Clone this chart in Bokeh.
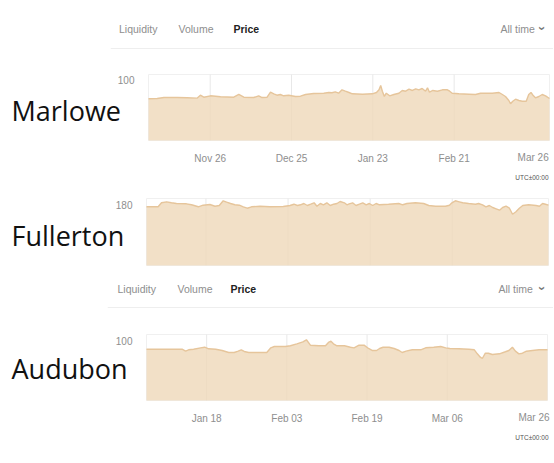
from math import pi
from bokeh.plotting import figure
from bokeh.layouts import column
from bokeh.models import Range1d, FixedTicker, Label, Span, LinearAxis
from bokeh.embed import file_html
from bokeh.resources import INLINE

# ---------------- data ----------------
names = ["Marlowe", "Fullerton", "Audubon"]
tabs = ["Liquidity", "Volume", "Price"]
range_label = "All time"
tz_label = "UTC±00:00"

marlowe_days = [0, 3.1, 5.5, 10.2, 13.8, 17.3, 18.5, 19.7, 22.1, 25.7,
                30.4, 32.2, 34.0, 37.5, 39.3, 40.5, 42.3, 43.5, 44.7, 45.8,
                47.0, 48.2, 50.0, 52.4, 54.2, 56.0, 58.9, 62.5, 64.3, 65.4,
                66.6, 67.8, 69.0, 70.2, 71.5, 72.7, 76.3, 79.8, 81.3, 82.2,
                82.8, 83.4, 84.1, 84.8, 86.0, 87.5, 89.3, 90.5, 91.7, 92.9,
                94.1, 95.3, 96.4, 97.6, 98.8, 99.5, 100.2, 101.4, 103.0, 104.8,
                106.6, 107.4, 108.3, 110.7, 114.3, 116.6, 118.4, 122.6, 125.0, 126.2,
                127.3, 128.5, 129.1, 129.9, 130.9, 132.1, 133.3, 134.7, 135.6, 136.4,
                137.1, 138.0, 139.2, 140.4, 141.6, 143.0]
marlowe_price = [68.9, 69.4, 71.0, 71.0, 70.5, 69.9, 74.8, 71.5, 73.8, 72.2,
                 71.5, 76.0, 71.5, 71.0, 73.8, 71.0, 71.5, 79.8, 77.1, 74.8,
                 76.0, 73.8, 74.8, 72.7, 73.2, 76.0, 77.6, 78.1, 79.3, 78.8,
                 80.4, 78.1, 83.7, 81.4, 79.3, 77.1, 76.5, 77.1, 79.3, 83.7,
                 90.8, 81.4, 72.7, 78.1, 73.8, 76.0, 78.1, 82.6, 81.4, 84.7,
                 82.6, 85.4, 83.7, 85.9, 81.4, 87.0, 79.8, 82.6, 81.4, 83.7,
                 83.7, 81.4, 78.1, 77.1, 76.5, 76.0, 78.1, 78.1, 79.3, 76.0,
                 72.7, 66.1, 60.6, 64.9, 68.2, 66.1, 64.9, 64.9, 76.0, 79.3,
                 74.8, 70.5, 72.7, 76.0, 73.8, 69.4]
marlowe_tick_days = [22, 51, 80, 109, 142]
marlowe_tick_labels = ["Nov 26", "Dec 25", "Jan 23", "Feb 21", "Mar 26"]
marlowe_ytick = 100
marlowe_ymax = 109

fullerton_days = [0, 4.1, 5.3, 7.1, 8.8, 10.6, 14.1, 15.9, 18.3, 20.0,
                  22.4, 24.2, 25.7, 27.1, 28.3, 29.7, 31.2, 32.8, 34.2, 35.6,
                  37.1, 40.1, 43.6, 48.3, 50.7, 52.1, 53.3, 54.4, 55.6, 56.8,
                  58.0, 59.2, 60.2, 61.4, 62.5, 63.7, 64.9, 66.1, 67.3, 68.4,
                  69.9, 70.8, 71.6, 72.8, 74.0, 75.2, 76.4, 77.6, 78.7, 79.9,
                  81.1, 82.3, 85.5, 89.1, 90.5, 92.0, 95.0, 97.9, 99.7, 102.1,
                  105.6, 107.0, 107.9, 109.1, 110.5, 111.7, 113.8, 116.2, 117.3, 118.7,
                  119.9, 121.1, 122.3, 123.5, 124.7, 125.8, 127.0, 128.2, 129.3, 130.5,
                  131.7, 132.9, 135.0, 137.6, 138.8, 139.9, 140.9, 142.0]
fullerton_price = [173.5, 173.5, 185.3, 188.2, 185.3, 183.2, 182.3, 179.4, 173.5, 178.2,
                   180.3, 175.2, 177.3, 191.2, 187.1, 183.2, 179.4, 178.2, 173.5, 169.3,
                   173.5, 175.2, 173.5, 174.3, 177.3, 181.1, 177.3, 179.4, 183.2, 177.3,
                   181.1, 185.3, 175.2, 183.2, 179.4, 185.3, 177.3, 181.1, 183.2, 189.1,
                   185.3, 179.4, 182.3, 185.3, 177.3, 181.1, 185.3, 179.4, 183.2, 177.3,
                   183.2, 179.4, 181.1, 183.2, 179.4, 183.2, 185.3, 183.2, 177.3, 175.2,
                   175.2, 178.2, 185.3, 191.2, 188.2, 185.3, 183.2, 181.1, 183.2, 179.4,
                   173.5, 177.3, 171.4, 167.5, 163.4, 171.4, 175.2, 169.3, 151.6, 158.7,
                   169.3, 177.3, 179.4, 177.3, 175.2, 183.2, 181.1, 178.2]
fullerton_tick_days = [21, 50, 79, 108]
fullerton_ytick = 180
fullerton_ymax = 198

audubon_days = [0, 7.1, 7.8, 8.4, 9.4, 10.8, 11.6, 12.4, 13.8, 15.1,
                16.4, 17.5, 18.3, 18.9, 19.5, 20.4, 24.0, 24.8, 25.5, 27.7,
                28.7, 30.0, 31.2, 31.9, 32.7, 34.4, 35.7, 36.3, 36.8, 37.3,
                38.0, 39.5, 40.7, 41.4, 42.4, 43.4, 44.3, 45.1, 45.9, 46.5,
                47.2, 48.4, 49.4, 50.4, 51.0, 51.8, 53.0, 54.7, 55.7, 57.3,
                58.7, 59.7, 60.5, 62.3, 64.3, 65.4, 66.0, 66.6, 67.0, 67.6,
                68.2, 69.0, 70.4, 71.6, 72.3, 73.0, 73.6, 74.3, 75.0, 75.8,
                77.0, 78.3, 80.0]
audubon_price = [85.5, 85.5, 82.2, 84.5, 85.5, 87.8, 88.8, 86.2, 85.5, 83.3,
                 80.0, 80.0, 82.2, 84.5, 81.7, 80.0, 80.0, 87.8, 90.0, 90.0,
                 91.2, 94.5, 97.8, 101.2, 92.2, 91.2, 91.2, 96.7, 98.8, 94.5,
                 91.2, 91.2, 88.8, 87.8, 92.2, 92.2, 86.7, 83.3, 83.3, 86.7,
                 88.8, 88.8, 86.7, 83.3, 80.0, 82.2, 84.5, 84.5, 87.8, 88.8,
                 90.0, 87.8, 86.7, 86.2, 85.5, 84.5, 77.8, 72.2, 70.0, 78.8,
                 78.8, 76.7, 77.8, 81.2, 83.3, 88.8, 82.2, 77.8, 78.8, 82.2,
                 83.3, 84.5, 84.5]
audubon_tick_days = [12, 28, 44, 60, 80]
audubon_tick_labels = ["Jan 18", "Feb 03", "Feb 19", "Mar 06", "Mar 26"]
audubon_ytick = 100
audubon_ymax = 110

# ---------------- style ----------------
W = 553
UI_FONT = "Liberation Sans"
NAME_FONT = "Open Sans"
GRAY = "#8e8e8e"
FILL = "#efd8b9"
LINE = "#e6c59b"


def bare_figure(height, x_range, y_range, left=0):
    p = figure(width=W, height=height, x_range=x_range, y_range=y_range,
               toolbar_location=None, output_backend="svg", title=None,
               x_axis_location=None, y_axis_location=None,
               min_border_left=left, min_border_right=0, min_border_top=0,
               min_border_bottom=0, frame_align=False)
    p.grid.visible = False
    p.outline_line_color = None
    return p


def header(height, left, tab_y, sep_y, tab_x, all_x, chev_x):
    p = bare_figure(height, Range1d(0, W - left), Range1d(0, height), left)
    for i, t in enumerate(tabs):
        active = (t == "Price")
        p.add_layout(Label(x=tab_x[i], y=tab_y, text=t, text_font=UI_FONT,
                           text_font_size="10.5px",
                           text_font_style="bold" if active else "normal",
                           text_color="#222222" if active else GRAY,
                           text_baseline="middle", text_align="left"))
    p.add_layout(Label(x=all_x, y=tab_y, text=range_label, text_font=UI_FONT,
                       text_font_size="10.5px", text_color=GRAY,
                       text_baseline="middle", text_align="left"))
    p.add_layout(Label(x=chev_x, y=tab_y, text="›", text_font=UI_FONT,
                       text_font_size="13px", text_font_style="bold",
                       text_color="#777777", angle=-pi / 2,
                       text_baseline="middle", text_align="center"))
    p.add_layout(Span(location=sep_y, dimension="width", line_color="#eeeeee",
                      line_width=1))
    return p


def chart(days, vals, ymax, ytick, tick_days, tick_labels, height, L, R, T, B,
          name, name_py, xlab_py=None, utc_py=None):
    """Plot area spans pixels L..R, T..B of the figure; the frame covers the
    whole figure so that the names and notes around it stay visible."""
    D = days[-1]
    kx = D / (R - L)
    ky = ymax / (B - T)

    def dx(px):
        return (px - L) * kx

    def dy(py):
        return (B - py) * ky

    p = bare_figure(height, Range1d(dx(0), dx(W)), Range1d(dy(height), dy(0)))
    inner = tick_days[:4]

    # plot-area outline and vertical grid lines
    p.quad(left=[0], right=[D], bottom=[0], top=[ymax], fill_color=None,
           line_color="#f0f0f0", line_width=1)
    p.segment(x0=inner, y0=[0] * len(inner), x1=inner, y1=[ymax] * len(inner),
              line_color="#e8e8e8", line_width=1)
    p.varea(x=days, y1=0, y2=vals, fill_color=FILL, fill_alpha=0.8)
    p.line(days, vals, line_color=LINE, line_width=1.4)

    ya = LinearAxis(fixed_location=0, ticker=FixedTicker(ticks=[ytick]))
    ya.axis_line_color = None
    ya.major_tick_line_color = None
    ya.minor_tick_line_color = None
    ya.major_tick_out = 0
    ya.major_tick_in = 0
    ya.major_label_standoff = 14
    ya.major_label_text_font = UI_FONT
    ya.major_label_text_font_size = "10px"
    ya.major_label_text_color = GRAY
    p.add_layout(ya, "left")

    if tick_labels is not None:
        xa = LinearAxis(fixed_location=0, ticker=FixedTicker(ticks=inner))
        xa.axis_line_color = None
        xa.major_tick_line_color = None
        xa.minor_tick_line_color = None
        xa.major_tick_out = 0
        xa.major_tick_in = 0
        xa.major_label_standoff = 12
        xa.major_label_text_font = UI_FONT
        xa.major_label_text_font_size = "10px"
        xa.major_label_text_color = GRAY
        xa.major_label_overrides = {d: l for d, l in zip(inner, tick_labels[:4])}
        p.add_layout(xa, "below")
        # the last tick label sits at the right end of the axis, right-aligned
        p.add_layout(Label(x=tick_days[4], y=dy(xlab_py), text=tick_labels[4],
                           text_font=UI_FONT, text_font_size="10px",
                           text_color=GRAY, text_align="right",
                           text_baseline="middle", x_offset=2))
        p.add_layout(Label(x=dx(548), y=dy(utc_py), text=tz_label,
                           text_font=UI_FONT, text_font_size="6.5px",
                           text_color="#555555", text_align="right",
                           text_baseline="middle"))

    p.add_layout(Label(x=dx(11), y=dy(name_py), text=name,
                       text_font=NAME_FONT, text_font_size="27px",
                       text_color="#111111", text_align="left",
                       text_baseline="middle"))
    return p


h1 = header(58, 110, 30, 10, [8.5, 68, 123], 390, 432)
p1 = chart(marlowe_days, marlowe_price, marlowe_ymax, marlowe_ytick,
           marlowe_tick_days, marlowe_tick_labels, 130, 148, 549, 16, 82,
           names[0], 52, xlab_py=99, utc_py=119)
p2 = chart(fullerton_days, fullerton_price, fullerton_ymax, fullerton_ytick,
           fullerton_tick_days, None, 82, 146, 548, 10, 77,
           names[1], 47)
h2 = header(52, 107, 34, 15, [10, 70, 123], 391, 435)
p3 = chart(audubon_days, audubon_price, audubon_ymax, audubon_ytick,
           audubon_tick_days, audubon_tick_labels, 140, 146, 547, 12, 78,
           names[2], 46, xlab_py=95, utc_py=115)

layout = column(h1, p1, p2, h2, p3, spacing=0)
open("out.html", "w").write(file_html(layout, INLINE))
